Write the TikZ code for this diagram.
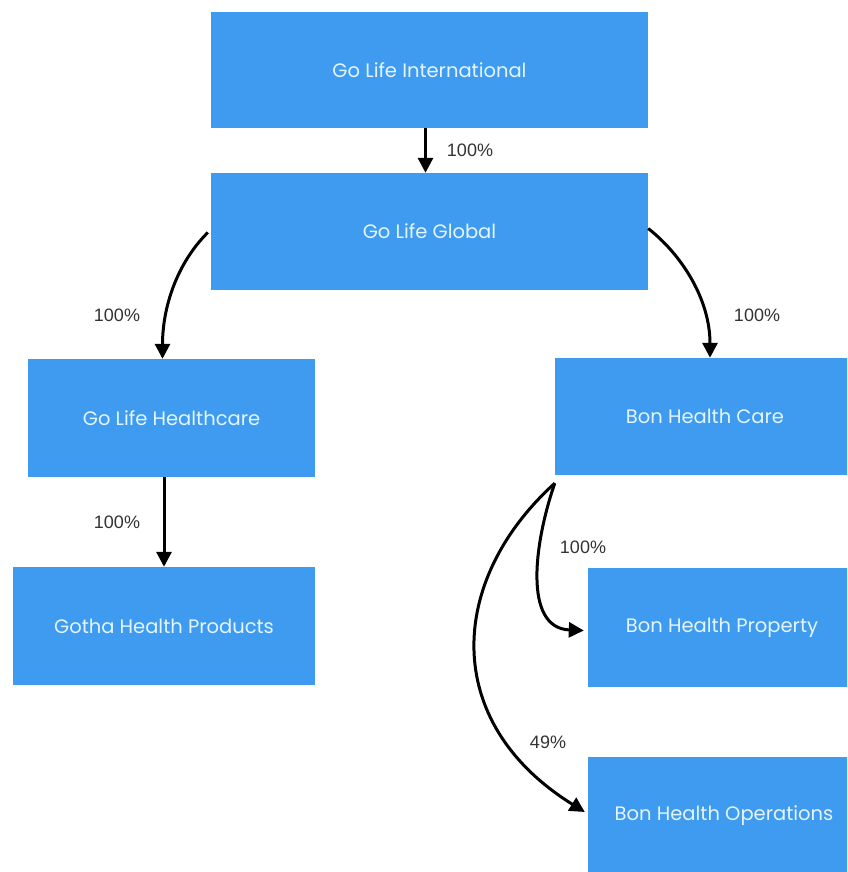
\documentclass[tikz,border=0pt]{standalone}
\usepackage{fontspec}
\setmainfont{Poppins}
\newfontfamily\labelfont{Liberation Sans}
\usetikzlibrary{arrows.meta,calc}
\definecolor{boxblue}{HTML}{3E9BF0}
\definecolor{boxtext}{HTML}{E4F5FF}
\definecolor{labgray}{HTML}{333333}
\tikzset{
  entity/.style={rectangle, fill=boxblue, draw=none, text=boxtext, font=\fontsize{19.5}{21}\selectfont, inner sep=0pt},
  conn/.style={line width=3pt, draw=black, -{Triangle[length=15pt,width=15pt]}},
  pct/.style={font=\labelfont\fontsize{18}{20}\selectfont, text=labgray, inner sep=0pt}
}
\begin{document}
\begin{tikzpicture}[x=1pt,y=-1pt]
\useasboundingbox (0,0) rectangle (847,872);
\clip (0,0) rectangle (847,872);
\fill[white] (0,0) rectangle (847,872);
% boxes
\node[entity, minimum width=437pt, minimum height=116pt] (intl) at (429.5,70) {Go Life International};
\node[entity, minimum width=437pt, minimum height=117pt] (glob) at (429.5,231.5) {Go Life Global};
\node[entity, minimum width=287pt, minimum height=118pt] (hc) at (171.5,418) {Go Life Healthcare};
\node[entity, minimum width=302pt, minimum height=118pt] (gotha) at (164,626) {Gotha Health Products};
\node[entity, minimum width=300pt, minimum height=117pt] (bhc) at (705,416.5) {Bon Health Care};
\node[entity, minimum width=268pt, minimum height=119pt] (prop) at (722,627.5) {Bon Health Property};
\node[entity, minimum width=272pt, minimum height=118pt] (ops) at (724,816) {Bon Health Operations};
% helper coordinates
\coordinate (bstart) at ($(bhc.south west)+(0,8)$);
% connectors
\draw[conn] ($(intl.south)+(-4,0)$) -- ($(glob.north)+(-4,0)$);
\draw[conn] ($(glob.west)+(-3,1)$) .. controls ($(glob.west)+(-35,33)$) and ($(hc.north)+(-9,-50)$) .. ($(hc.north)+(-9,0)$);
\draw[conn] ($(glob.east)+(0,-3)$) .. controls ($(glob.east)+(32,22)$) and ($(bhc.north)+(5,-60)$) .. ($(bhc.north)+(5,0)$);
\draw[conn] (hc.south -| gotha.north) -- (gotha.north);
\draw[conn] (bstart) .. controls (535,540) and (522,628) .. ($(prop.west)+(-4,3)$);
\draw[conn] (bstart) .. controls (448,580) and (440,722) .. ($(ops.west)+(-3,-4)$);
% labels
\node[pct] (l1) at (470,150) {100\%};
\node[pct] (l2) at (117,315) {100\%};
\node[pct] (l3) at (757,315) {100\%};
\node[pct] (l4) at (117,522) {100\%};
\node[pct] (l5) at (583,547) {100\%};
\node[pct] (l6) at (548,742) {49\%};
\end{tikzpicture}
\end{document}
